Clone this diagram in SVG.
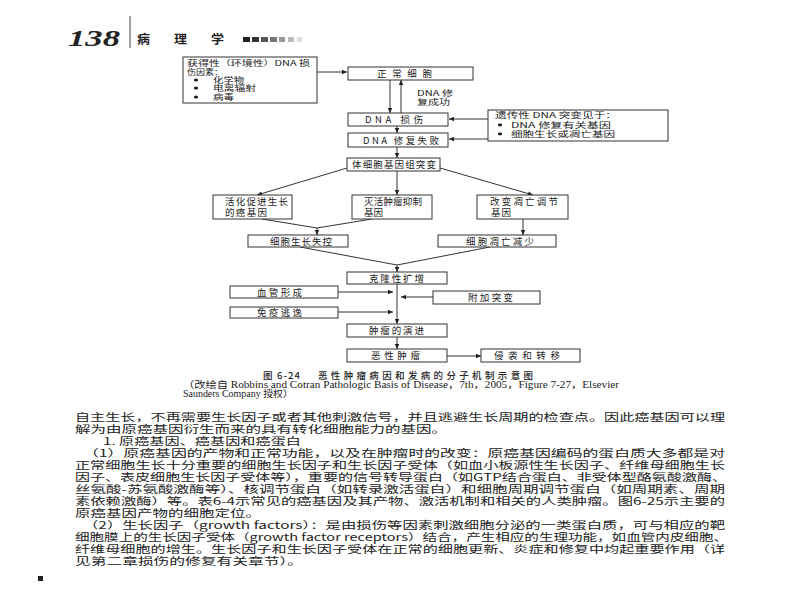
<svg xmlns="http://www.w3.org/2000/svg" width="800" height="600" viewBox="0 0 800 600">
<defs>
<marker id="ah" viewBox="0 0 10 10" refX="10" refY="5" markerWidth="6" markerHeight="5" orient="auto" markerUnits="userSpaceOnUse"><path d="M0,0.5 L10,5 L0,9.5 z" fill="#222"/></marker>
<style>
.box{fill:#fff;stroke:#333;stroke-width:1}
.ln{fill:none;stroke:#333;stroke-width:1}
.ar{fill:none;stroke:#333;stroke-width:1;marker-end:url(#ah)}
.lb{font-family:"Noto Sans CJK SC","Noto Sans",sans-serif;font-size:9.5px;fill:#222}
.sm{font-family:"Noto Sans CJK SC","Noto Sans",sans-serif;font-size:7.5px;fill:#222}
.bd{font-family:"Noto Sans CJK SC","Noto Sans",sans-serif;font-size:10px;fill:#222}
.cp{font-family:"Liberation Serif","Noto Sans CJK SC",serif;font-size:9.5px;fill:#222}
</style>
</defs>
<rect width="800" height="600" fill="#fff"/>

<g id="header">
<text x="68" y="46" font-family="Liberation Serif,serif" font-style="italic" font-weight="bold" font-size="24" fill="#222" textLength="52" lengthAdjust="spacingAndGlyphs">138</text>
<line x1="130" y1="16" x2="130" y2="48" stroke="#444" stroke-width="1"/>
<text x="137" y="44" font-family="Noto Sans CJK SC,sans-serif" font-size="12" font-weight="bold" fill="#222" textLength="13" lengthAdjust="spacingAndGlyphs">病</text>
<text x="174" y="44" font-family="Noto Sans CJK SC,sans-serif" font-size="12" font-weight="bold" fill="#222" textLength="13" lengthAdjust="spacingAndGlyphs">理</text>
<text x="211" y="44" font-family="Noto Sans CJK SC,sans-serif" font-size="12" font-weight="bold" fill="#222" textLength="13" lengthAdjust="spacingAndGlyphs">学</text>
<rect x="243" y="37" width="7" height="5" fill="#222"/>
<rect x="252" y="37" width="7" height="5" fill="#333"/>
<rect x="261" y="37" width="7" height="5" fill="#555"/>
<rect x="270" y="37" width="7" height="5" fill="#777"/>
<rect x="279" y="37" width="6" height="5" fill="#999"/>
<rect x="288" y="37" width="6" height="5" fill="#bbb"/>
<rect x="297" y="37" width="5" height="5" fill="#ddd"/>
</g>

<g id="connectors">
<line class="ar" x1="317" y1="72" x2="347" y2="72"/>
<line class="ar" x1="390" y1="80" x2="390" y2="113"/>
<line class="ar" x1="401" y1="113" x2="401" y2="80"/>
<line class="ar" x1="488" y1="119" x2="449" y2="119"/>
<line class="ar" x1="488" y1="139" x2="449" y2="139"/>
<line class="ar" x1="397" y1="126" x2="397" y2="133"/>
<line class="ar" x1="397" y1="147" x2="397" y2="158"/>
<line class="ar" x1="347" y1="168" x2="257" y2="195"/>
<line class="ar" x1="397" y1="171" x2="397" y2="195"/>
<line class="ar" x1="440" y1="168" x2="533" y2="195"/>
<path class="ln" d="M262,219 L317,228 M372,219 L317,228"/>
<line class="ar" x1="317" y1="228" x2="317" y2="235"/>
<line class="ar" x1="523" y1="219" x2="523" y2="235"/>
<path class="ln" d="M300,247 L397,265 M490,247 L397,265"/>
<line class="ar" x1="397" y1="265" x2="397" y2="272"/>
<line class="ar" x1="397" y1="284" x2="397" y2="324"/>
<line class="ar" x1="338" y1="292" x2="393" y2="292"/>
<line class="ar" x1="433" y1="297" x2="401" y2="297"/>
<line class="ar" x1="338" y1="312" x2="393" y2="312"/>
<line class="ar" x1="397" y1="337" x2="397" y2="349"/>
<line class="ar" x1="447" y1="356" x2="481" y2="356"/>
</g>

<g id="acquired">
<rect class="box" x="183" y="57" width="134" height="46"/>
<text class="sm" x="187" y="66" textLength="123" lengthAdjust="spacingAndGlyphs">获得性（环境性）DNA 损</text>
<text class="sm" x="187" y="75" textLength="36" lengthAdjust="spacingAndGlyphs">伤因素：</text>
<ellipse cx="196" cy="80" rx="2.2" ry="1.5" fill="#222"/>
<ellipse cx="196" cy="88" rx="2.2" ry="1.5" fill="#222"/>
<ellipse cx="196" cy="97" rx="2.2" ry="1.5" fill="#222"/>
<text class="sm" x="213" y="83" textLength="31" lengthAdjust="spacingAndGlyphs">化学物</text>
<text class="sm" x="213" y="91" textLength="43" lengthAdjust="spacingAndGlyphs">电离辐射</text>
<text class="sm" x="213" y="100" textLength="21" lengthAdjust="spacingAndGlyphs">病毒</text>
</g>

<g id="normal">
<rect class="box" x="348" y="67" width="125" height="13"/>
<text class="lb" x="377" y="77" textLength="55">正常细胞</text>
</g>
<g id="repair-ok">
<text class="sm" x="417" y="96" textLength="36" lengthAdjust="spacingAndGlyphs">DNA 修</text>
<text class="sm" x="417" y="105" textLength="33" lengthAdjust="spacingAndGlyphs">复成功</text>
</g>
<g id="dna-damage">
<rect class="box" x="348" y="113" width="100" height="13"/>
<text class="lb" x="365" y="123" textLength="58">DNA 损伤</text>
</g>
<g id="repair-fail">
<rect class="box" x="348" y="133" width="100" height="14"/>
<text class="lb" x="363" y="144" textLength="76">DNA 修复失败</text>
</g>
<g id="inherited">
<rect class="box" x="488" y="110" width="180" height="31"/>
<text class="sm" x="495" y="118" textLength="122" lengthAdjust="spacingAndGlyphs">遗传性 DNA 突变见于：</text>
<ellipse cx="500" cy="125" rx="2.2" ry="1.4" fill="#222"/>
<ellipse cx="500" cy="134" rx="2.2" ry="1.4" fill="#222"/>
<text class="sm" x="511" y="128" textLength="100" lengthAdjust="spacingAndGlyphs">DNA 修复有关基因</text>
<text class="sm" x="511" y="137" textLength="104" lengthAdjust="spacingAndGlyphs">细胞生长或凋亡基因</text>
</g>
<g id="somatic">
<rect class="box" x="347" y="158" width="93" height="13"/>
<text class="lb" x="352" y="168" textLength="84">体细胞基因组突变</text>
</g>
<g id="oncogene">
<rect class="box" x="213" y="195" width="79" height="24"/>
<text class="lb" x="225" y="205" textLength="63">活化促进生长</text>
<text class="lb" x="225" y="216" textLength="42">的癌基因</text>
</g>
<g id="suppressor">
<rect class="box" x="352" y="195" width="80" height="24"/>
<text class="lb" x="364" y="205" textLength="58">灭活肿瘤抑制</text>
<text class="lb" x="364" y="216" textLength="19">基因</text>
</g>
<g id="apoptosis-genes">
<rect class="box" x="477" y="195" width="91" height="24"/>
<text class="lb" x="490" y="205" textLength="68">改变凋亡调节</text>
<text class="lb" x="491" y="216" textLength="20">基因</text>
</g>
<g id="growth-loss">
<rect class="box" x="248" y="235" width="100" height="12"/>
<text class="lb" x="270" y="245" textLength="62">细胞生长失控</text>
</g>
<g id="apoptosis-less">
<rect class="box" x="438" y="235" width="118" height="12"/>
<text class="lb" x="466" y="245" textLength="68">细胞凋亡减少</text>
</g>
<g id="clonal">
<rect class="box" x="347" y="272" width="100" height="12"/>
<text class="lb" x="369" y="282" textLength="55">克隆性扩增</text>
</g>
<g id="angio">
<rect class="box" x="230" y="286" width="108" height="12"/>
<text class="lb" x="257" y="296" textLength="45">血管形成</text>
</g>
<g id="extra-mut">
<rect class="box" x="433" y="291" width="107" height="13"/>
<text class="lb" x="468" y="301" textLength="45">附加突变</text>
</g>
<g id="immune">
<rect class="box" x="230" y="307" width="108" height="11"/>
<text class="lb" x="257" y="316" textLength="45">免疫逃逸</text>
</g>
<g id="progression">
<rect class="box" x="347" y="324" width="100" height="13"/>
<text class="lb" x="369" y="334" textLength="55">肿瘤的演进</text>
</g>
<g id="malignant">
<rect class="box" x="347" y="349" width="100" height="13"/>
<text class="lb" x="371" y="359" textLength="49">恶性肿瘤</text>
</g>
<g id="invasion">
<rect class="box" x="481" y="349" width="99" height="13"/>
<text class="lb" x="494" y="359" textLength="66">侵袭和转移</text>
</g>

<g id="caption">
<text class="lb" x="263" y="379" font-weight="500" textLength="37">图 6-24</text>
<text class="lb" x="318" y="379" font-weight="500" textLength="215">恶性肿瘤病因和发病的分子机制示意图</text>
<text class="cp" x="183" y="388" textLength="436" lengthAdjust="spacingAndGlyphs">（改绘自 Robbins and Cotran Pathologic Basis of Disease，7th，2005，Figure 7-27，Elsevier</text>
<text class="cp" x="183" y="397" textLength="110" lengthAdjust="spacingAndGlyphs">Saunders Company 授权）</text>
</g>

<g id="body">
<text class="bd" x="75" y="421" textLength="650" lengthAdjust="spacingAndGlyphs">自主生长，不再需要生长因子或者其他刺激信号，并且逃避生长周期的检查点。因此癌基因可以理</text>
<text class="bd" x="75" y="433" textLength="372" lengthAdjust="spacingAndGlyphs">解为由原癌基因衍生而来的具有转化细胞能力的基因。</text>
<text class="bd" x="103" y="445" textLength="198" lengthAdjust="spacingAndGlyphs">1. 原癌基因、癌基因和癌蛋白</text>
<text class="bd" x="83" y="457" textLength="642" lengthAdjust="spacingAndGlyphs">（1）原癌基因的产物和正常功能，以及在肿瘤时的改变：原癌基因编码的蛋白质大多都是对</text>
<text class="bd" x="75" y="469" textLength="650" lengthAdjust="spacingAndGlyphs">正常细胞生长十分重要的细胞生长因子和生长因子受体（如血小板源性生长因子、纤维母细胞生长</text>
<text class="bd" x="75" y="481" textLength="652" lengthAdjust="spacingAndGlyphs">因子、表皮细胞生长因子受体等），重要的信号转导蛋白（如GTP结合蛋白、非受体型酪氨酸激酶、</text>
<text class="bd" x="75" y="493" textLength="650" lengthAdjust="spacingAndGlyphs">丝氨酸-苏氨酸激酶等）、核调节蛋白（如转录激活蛋白）和细胞周期调节蛋白（如周期素、周期</text>
<text class="bd" x="75" y="505" textLength="650" lengthAdjust="spacingAndGlyphs">素依赖激酶）等。表6-4示常见的癌基因及其产物、激活机制和相关的人类肿瘤。图6-25示主要的</text>
<text class="bd" x="75" y="517" textLength="186" lengthAdjust="spacingAndGlyphs">原癌基因产物的细胞定位。</text>
<text class="bd" x="83" y="529" textLength="642" lengthAdjust="spacingAndGlyphs">（2）生长因子（growth factors）：是由损伤等因素刺激细胞分泌的一类蛋白质，可与相应的靶</text>
<text class="bd" x="75" y="541" textLength="653" lengthAdjust="spacingAndGlyphs">细胞膜上的生长因子受体（growth factor receptors）结合，产生相应的生理功能，如血管内皮细胞、</text>
<text class="bd" x="75" y="553" textLength="650" lengthAdjust="spacingAndGlyphs">纤维母细胞的增生。生长因子和生长因子受体在正常的细胞更新、炎症和修复中均起重要作用（详</text>
<text class="bd" x="75" y="565" textLength="228" lengthAdjust="spacingAndGlyphs">见第二章损伤的修复有关章节）。</text>
<rect x="38" y="576" width="5" height="5" fill="#222"/>
</g>
</svg>
